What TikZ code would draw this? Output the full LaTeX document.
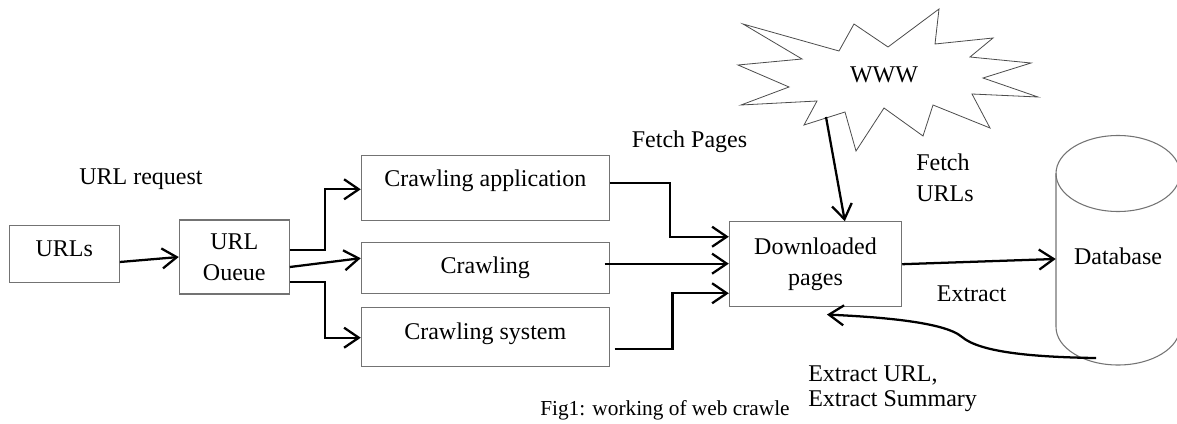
\documentclass[tikz,border=0pt]{standalone}
\usepackage{fontspec}
\setmainfont{Liberation Serif}
\usetikzlibrary{arrows.meta}
\begin{document}
\begin{tikzpicture}[x=0.75pt,y=-0.75pt,
  every node/.style={font=\fontsize{18}{23}\selectfont},
  box/.style={draw=black!55, line width=0.8pt, inner sep=0pt, text height=12.2pt, text depth=4pt},
  mbox/.style={draw=black!55, line width=0.8pt, inner sep=0pt, align=center},
  shape line/.style={draw=black!55, line width=0.8pt},
  arr/.style={line width=1.7pt, -{Straight Barb[length=11pt,width=15pt]}},
  lbl/.style={inner sep=0pt}]
\clip (0,0) rectangle (1177,424);
% WWW starburst
\draw[draw=black!70, line width=0.6pt, fill=white] (743,24) -- (839,51) -- (854,24) -- (888,47) -- (939,9) -- (935,44) -- (993,38) -- (970,57) -- (1031,63) -- (983,78) -- (1038,97) -- (972,94) -- (990,128) -- (933,105) -- (923,136) -- (884,108) -- (856,151) -- (845,112) -- (804,125) -- (817,101) -- (741,105) -- (789,87) -- (738,65) -- (802,59) -- cycle;
\node[lbl] (www) at (884,75) {WWW};
% database cylinder
\draw[shape line] (1056,173.5) -- (1056,327) arc[start angle=180,end angle=0,x radius=62,y radius=38] -- (1180,173.5);
\draw[shape line] (1118,173.5) ellipse [x radius=62, y radius=38];
\node[lbl, minimum width=93pt] (db) at (1118,256.7) {Database};
% boxes
\node[box, minimum width=82.5pt, minimum height=42.5pt, text depth=8.1pt] (urls) at (64.3,254) {URLs};
\node[mbox, minimum width=82.5pt, minimum height=55.5pt] (queue) at (234.3,257) {URL\\Oueue};
\node[box, minimum width=186pt, minimum height=48.5pt, text depth=13.5pt] (app) at (485.3,187.7) {Crawling application};
\node[box, minimum width=186pt, minimum height=38.25pt] (crawl) at (485.3,268.2) {Crawling};
\node[box, minimum width=186pt, minimum height=44pt, text depth=8.1pt] (sys) at (485.3,336.7) {Crawling system};
\node[mbox, minimum width=129.3pt, minimum height=63.75pt] (down) at (815.5,264.2) {Downloaded\\pages};
% labels
\node[lbl, anchor=base] (lreq) at (141,185) {URL request};
\node[lbl, anchor=base] (lfetchp) at (689.5,148) {Fetch Pages};
\node[lbl, anchor=west, align=left] (lfetchu) at (916,178) {Fetch\\URLs};
\node[lbl, anchor=base] (lextract) at (971.5,301.3) {Extract};
\node[lbl, anchor=west, align=left, font=\fontsize{18}{18.5}\selectfont] (lsum) at (808,389) {Extract URL,\\Extract Summary};
\node[lbl, anchor=base west, font=\fontsize{16}{19}\selectfont] (cap) at (540,415) {Fig1: working of web crawle};
% connectors
\draw[arr] ([yshift=-6pt]urls.east) -- (queue.west);
\draw[arr] ([yshift=5.25pt]queue.east) -- ++(35,0) |- ([yshift=-1.2pt]app.west);
\draw[arr] ([yshift=-7.5pt]queue.east) -- ([yshift=7.5pt]crawl.west);
\draw[arr] ([yshift=-18.75pt]queue.east) -- ++(35,0) |- ([yshift=-0.75pt]sys.west);
\draw[arr] ([yshift=3.5pt]app.east) -- ++(60,0) |- ([yshift=20.6pt]down.west);
\draw[arr] ([xshift=-4pt,yshift=3.4pt]crawl.east) -- ([yshift=0.4pt]down.west);
\draw[arr] ([xshift=3.5pt,yshift=-9.2pt]sys.east) -- ++(58,0) |- ([yshift=-21.8pt]down.west);
\draw[arr] ([xshift=-43.5pt,yshift=-31.5pt]www.center) -- ([xshift=22pt]down.north);
\draw[arr] (down.east) -- ([yshift=-1.7pt]db.west);
\draw[arr] ([xshift=-16.5pt,yshift=-76pt]db.center) .. controls (1030,357) and (980,352) .. (962,337) .. controls (945,322) and (880,317) .. ([xshift=8.6pt,yshift=-5.5pt]down.south);
\end{tikzpicture}
\end{document}
